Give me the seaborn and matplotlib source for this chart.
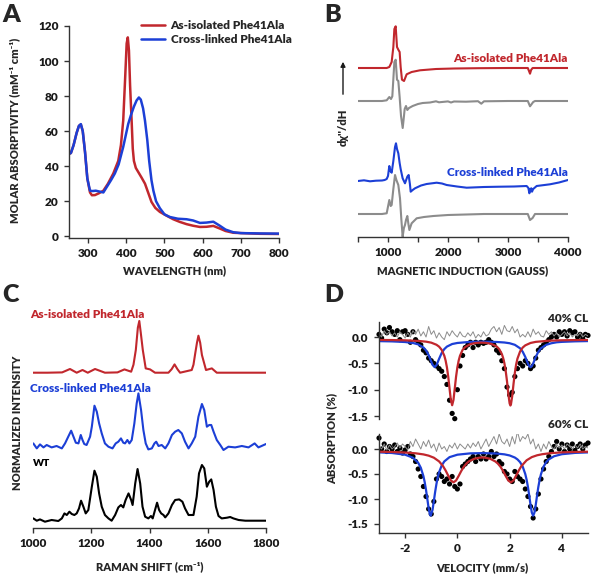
import numpy as np
import matplotlib

matplotlib.use("Agg")

import matplotlib.pyplot as plt
import seaborn as sns

# ---- Panel A: UV-vis ----
nm_iso = [250, 255, 262, 270, 276, 281, 286, 292, 298, 305,
          310, 318, 328, 340, 352, 366, 379, 386, 392, 397,
          401, 404, 407, 410, 414, 417, 420, 425, 431, 440,
          449, 458, 466, 476, 488, 505, 523, 540, 558, 575,
          593, 610, 628, 645, 660, 680, 700, 750, 800]
eps_iso = [47, 47.5, 52, 59, 63, 63.8, 60, 48, 33, 25,
           23.4, 23.5, 24.5, 26, 30, 35.8, 43, 52, 66, 90,
           110, 113.5, 106, 86, 66, 50, 43, 39, 36.8, 33.5,
           30, 24.5, 19.6, 16.2, 13.9, 11.8, 9.7, 8.2, 6.9, 6,
           5.3, 5.4, 5.9, 4.4, 3, 2, 1.8, 1.4, 1.3]
nm_cl = [250, 255, 262, 270, 276, 281, 286, 292, 298, 305,
         312, 320, 330, 340, 350, 360, 370, 380, 392, 400,
         405, 412, 420, 427, 433, 438, 444, 449, 455, 460,
         466, 471, 478, 488, 500, 514, 535, 558, 575, 593,
         610, 628, 645, 660, 680, 700, 750, 800]
eps_cl = [47, 47.5, 52, 59, 63, 64, 60, 48, 33, 26,
          25.8, 26, 25.5, 25, 28.5, 32, 35.8, 41, 51, 59,
          64, 69, 74, 77.5, 79.2, 78, 73, 66, 55, 43,
          32, 26, 20, 16, 12.5, 11, 10, 9.7, 9, 7.6,
          7.8, 8.3, 6, 3.8, 2.3, 1.8, 1.6, 1.5]

# ---- Panel B: EPR (derivative, arbitrary units) ----
g_iso = [500, 800, 978, 1022, 1061, 1089, 1106, 1128, 1150, 1172, 1194, 1211, 1233,
         1267, 1311, 1394, 1533, 1800, 2100, 2500, 3000, 3330, 3350, 3367, 3385,
         3410, 3700, 4000]
epr_iso = [0, 0, 0, 1, 6, 21, 39, 41.7, 21, 18.3, 16, 1, -11.7,
           -13, -6.3, -4, -2.3, -1, -0.5, -0.2, 0, 0, -3, -5.7, -2,
           0, 0, 0]
g_iso_sim = [500, 900, 978, 1022, 1050, 1072, 1106, 1128, 1150, 1172, 1194, 1217, 1245,
             1261, 1278, 1300, 1322, 1350, 1411, 1500, 1578, 1700, 1800, 1850, 1900,
             2000, 2050, 2100, 2300, 2500, 2555, 2600, 3000, 3330, 3367, 3420, 3450, 4000]
epr_iso_sim = [0, 0, 0.7, 4, 2, 4.7, 39, 41.3, 21.3, 20, 4, -15, -27,
               -18, -8, -5, -9, -7, -5, -3, -2, -1.5, -0.3, -1.3, -1,
               -0.4, -1.5, -0.5, -0.7, -0.2, -2.7, -0.3, 0, 0, -5.3, -1, 0, 0]
g_cl = [500, 600, 700, 800, 900, 944, 978, 1000, 1022, 1040, 1061, 1089, 1117, 1133,
        1150, 1172, 1194, 1211, 1244, 1283, 1322, 1344, 1365, 1378, 1411, 1450, 1550,
        1644, 1811, 1900, 1978, 2150, 2311, 2600, 2867, 3100, 3311, 3340, 3356, 3372,
        3389, 3400, 3420, 3478, 3700, 3850, 4000]
epr_cl = [0, 0.7, -0.3, 0.3, 0.5, 1, 2, 5, 15, 10, 8.3, 20, 34, 37.7,
          32, 27.7, 18, 12, 2.7, -2.3, 4.3, 6, -3, -10.7, -9, -7.3, -4.5,
          -3, -1.7, -2.5, -4, -5.5, -6.7, -6, -5.7, -5.5, -5, -7, -12.3, -8,
          -7.3, -10.7, -8, -5, -3.3, -1.5, 1]
g_cl_sim = [500, 900, 978, 1022, 1045, 1061, 1089, 1117, 1140, 1172, 1200, 1222, 1244,
            1265, 1283, 1300, 1322, 1340, 1356, 1394, 1478, 1600, 1756, 2000, 2300,
            2600, 3330, 3367, 3410, 3450, 4000]
epr_cl_sim = [0, 0, 0.7, 14, 8, 9, 25, 39, 34, 29, 15.7, -5, -22.7,
              -14, -11, -6, -2, -10, -16, -9.3, -4.3, -3, -2, -1, -0.5,
              0, 0, -6, -4, 0, 0]

# ---- Panel C: resonance Raman ----
rr_iso_x = [1000, 1050, 1100, 1127, 1150, 1170, 1188, 1213, 1247, 1290, 1314, 1337,
            1345, 1353, 1360, 1365, 1370, 1377, 1387, 1402, 1419, 1465, 1476, 1486,
            1496, 1505, 1545, 1551, 1557, 1563, 1568, 1574, 1580, 1594, 1614, 1631,
            1700, 1800]
rr_iso_y = [0, 0, 0.3, 3.7, 0, 2.7, 0, 3.7, 0, 0.3, 3.3, 1,
            8, 22.7, 45, 51.7, 40, 22.7, 4.3, 3.3, 0, 0, 3.5, 8.3,
            3.5, 0, 2.7, 8, 19.3, 30, 37, 30, 17.7, 2.7, 4.3, 0,
            0, 0]
rr_cl_x = [1001, 1013, 1024, 1036, 1047, 1064, 1081, 1099, 1110, 1121,
           1131, 1139, 1147, 1156, 1164, 1170, 1176, 1184, 1196, 1202,
           1211, 1219, 1227, 1236, 1247, 1259, 1273, 1284, 1293, 1302,
           1310, 1316, 1324, 1331, 1339, 1348, 1356, 1362, 1371, 1379,
           1387, 1396, 1408, 1417, 1423, 1431, 1442, 1454, 1465, 1477,
           1488, 1499, 1511, 1522, 1534, 1545, 1557, 1568, 1580, 1588,
           1597, 1605, 1612, 1620, 1631, 1643, 1654, 1671, 1694, 1717,
           1740, 1761, 1774, 1800]
rr_cl_y = [3.3, -1.7, 2.3, -0.7, 1.7, -0.7, 0.7, -1.7, 3.3, 10,
           16, 10, 4, 3.3, 11.7, 6.7, 2.7, 1.7, 10, 20,
           41, 35, 23.3, 13.3, 3.3, 0, -1.7, 3.3, 5, 8.3,
           4, 3.3, 6.7, 3.3, 6.7, 23.3, 43.3, 53.3, 36.7, 16.7,
           3.3, -2.7, -1.7, 3.3, 5, 0.7, 1.7, -1.7, 3.3, 11.7,
           15, 16.7, 13.3, 5, -1.7, 3.3, 10, 30, 42.7, 36.7,
           20, 21.7, 21.7, 15, 6.7, 1.7, -3.3, 0, -0.7, 0.7,
           -0.7, 3.3, -0.7, 2.7]
rr_wt_x = [1001, 1013, 1024, 1041, 1064, 1087, 1099, 1108, 1116, 1125,
           1133, 1142, 1150, 1158, 1165, 1173, 1181, 1190, 1202, 1211,
           1219, 1227, 1236, 1247, 1259, 1270, 1282, 1293, 1302, 1310,
           1318, 1328, 1337, 1342, 1351, 1359, 1368, 1376, 1385, 1396,
           1405, 1411, 1419, 1426, 1433, 1440, 1448, 1454, 1465, 1477,
           1488, 1502, 1513, 1522, 1534, 1551, 1562, 1570, 1580, 1588,
           1597, 1605, 1612, 1620, 1628, 1637, 1648, 1666, 1677, 1688,
           1706, 1729, 1774, 1800]
rr_wt_y = [2.3, 0, 1.3, -1, 0.7, -0.3, 2.3, 7.3, 5.7, 9,
           6.7, 5.7, 7.3, 12.3, 20, 14, 7.3, 10.7, 34, 50,
           44, 27.3, 14, 5.7, 2.3, 0, 5.7, 13.3, 15.7, 13.3,
           20.7, 27.3, 20.7, 15.7, 37.3, 51.7, 37.3, 14, 4, 2.3,
           4.7, 2.3, 10.7, 18, 10.7, 7.3, 5.7, 3.3, 7.3, 15.7,
           20.7, 21.3, 19, 12.3, 5.7, 5.7, 24, 47.3, 55.7, 52.3,
           34, 39, 41.3, 30.7, 14, 4.7, 2.3, 3, 3.7, 2.3,
           0.7, 0, 0, 0]

# ---- Panel D: Mossbauer ----
vel = np.linspace(-3, 5, 81)  # velocity channels
abs40 = [0.05, -0.02, 0.15, 0.08, 0.18, 0.1, 0.05, 0.12, -0.05, 0.1,
         0.12, 0.05, -0.1, 0.1, -0.05, -0.1, -0.15, -0.25, -0.3, -0.4,
         -0.45, -0.5, -0.55, -0.6, -0.65, -0.75, -0.9, -1.2, -1.45, -1.55,
         -1.0, -0.55, -0.35, -0.2, -0.15, -0.1, -0.2, -0.1, -0.15, -0.1,
         -0.12, -0.1, -0.05, -0.1, -0.15, -0.25, -0.3, -0.45, -0.6, -0.95,
         -1.1, -1.05, -0.75, -0.6, -0.5, -0.55, -0.45, -0.5, -0.6, -0.55,
         -0.4, -0.25, -0.2, -0.15, -0.1, -0.05, 0.0, 0.05, 0.0, 0.1,
         0.05, 0.1, 0.02, 0.12, 0.08, 0.1, 0.0, 0.05, -0.02, 0.05,
         0.03]
res40 = [0.05, 0.0, 0.12, 0.05, 0.1, 0.02, 0.08, 0.0, 0.1, 0.05,
         -0.02, 0.08, 0.0, 0.12, 0.05, 0.15, 0.02, 0.1, 0.0, 0.2,
         0.05, 0.12, -0.02, 0.08, 0.0, -0.05, 0.1, 0.02, 0.12, 0.05,
         0.0, 0.1, 0.02, 0.0, 0.08, 0.02, 0.1, -0.02, 0.05, 0.0,
         0.1, 0.02, 0.05, 0.15, 0.2, 0.1, 0.18, 0.05, 0.22, 0.12,
         0.1, 0.2, 0.08, 0.15, 0.0, 0.05, 0.0, 0.1, 0.0, 0.15,
         0.05, 0.1, 0.02, 0.0, 0.12, 0.05, 0.1, 0.02, 0.08, 0.0,
         0.05, 0.1, 0.02, 0.08, 0.0, 0.05, 0.02, 0.08, 0.0, 0.05,
         0.02]
abs60 = [0.22, 0.0, 0.1, -0.05, 0.05, 0.0, 0.08, -0.05, 0.02, -0.08,
         -0.02, 0.05, -0.1, -0.15, -0.25, -0.4, -0.55, -0.75, -0.95, -1.2,
         -1.3, -1.05, -0.6, -0.5, -0.55, -0.65, -0.6, -0.7, -0.55, -0.75,
         -0.8, -0.7, -0.35, -0.3, -0.25, -0.2, -0.15, -0.25, -0.15, -0.2,
         -0.1, -0.2, -0.15, -0.05, -0.15, -0.1, -0.25, -0.3, -0.45, -0.5,
         -0.6, -0.65, -0.45, -0.55, -0.6, -0.65, -0.8, -0.95, -1.15, -1.38,
         -1.2, -0.9, -0.6, -0.4, -0.25, -0.15, -0.05, 0.05, 0.15, 0.0,
         0.1, -0.05, 0.08, 0.0, 0.1, -0.03, 0.05, 0.1, 0.0, 0.08,
         0.12]
res60 = [0.05, 0.0, 0.1, -0.02, 0.08, 0.0, 0.05, 0.12, 0.02, 0.1,
         0.05, -0.02, 0.15, 0.05, 0.2, 0.1, 0.0, 0.15, 0.05, 0.18,
         0.02, 0.1, -0.05, 0.12, 0.0, 0.05, -0.05, 0.08, 0.02, 0.12,
         0.0, 0.1, 0.05, 0.0, 0.1, 0.02, 0.12, 0.05, 0.15, 0.0,
         0.1, 0.2, 0.05, 0.15, 0.25, 0.1, 0.3, 0.15, 0.1, 0.2,
         0.05, 0.25, 0.1, 0.35, 0.15, 0.25, 0.2, 0.3, 0.1, 0.2,
         0.0, 0.1, -0.05, 0.1, 0.0, 0.15, 0.05, 0.0, 0.1, 0.02,
         0.08, 0.0, 0.1, 0.05, 0.0, 0.08, 0.02, 0.1, 0.0, 0.05,
         0.02]

# fit components
v_red40 = [-3, -2.5, -2, -1.5, -1.2, -1.0, -0.8, -0.7, -0.6, -0.5,
           -0.45, -0.4, -0.35, -0.3, -0.25, -0.2, -0.15, -0.1, -0.05, 0,
           0.05, 0.1, 0.2, 0.3, 0.5, 0.7, 0.9, 1.1, 1.3, 1.5,
           1.6, 1.7, 1.75, 1.8, 1.85, 1.9, 1.95, 2.0, 2.03, 2.05,
           2.1, 2.15, 2.2, 2.25, 2.3, 2.4, 2.5, 2.6, 2.8, 3.0,
           3.5, 4.0, 4.5, 5.0]
fit_red40 = [-0.056, -0.058, -0.063, -0.074, -0.088, -0.107, -0.147, -0.183, -0.244, -0.356,
             -0.447, -0.575, -0.752, -0.976, -1.195, -1.295, -1.195, -0.976, -0.752, -0.575,
             -0.447, -0.356, -0.244, -0.19, -0.134, -0.113, -0.106, -0.111, -0.13, -0.178,
             -0.229, -0.32, -0.395, -0.498, -0.645, -0.84, -1.075, -1.26, -1.30, -1.28,
             -1.12, -0.885, -0.68, -0.52, -0.41, -0.275, -0.20, -0.158, -0.113, -0.092,
             -0.07, -0.062, -0.058, -0.056]
v_blue40 = [-3, -2.5, -2, -1.7, -1.5, -1.3, -1.2, -1.1, -1.0, -0.95,
            -0.87, -0.8, -0.7, -0.6, -0.5, -0.4, -0.2, 0, 0.5, 1.0,
            1.5, 1.8, 2.0, 2.2, 2.4, 2.5, 2.6, 2.7, 2.75, 2.8,
            2.85, 2.9, 3.0, 3.1, 3.2, 3.4, 3.6, 3.8, 4.0, 4.5,
            5.0]
fit_blue40 = [-0.078, -0.083, -0.095, -0.113, -0.14, -0.198, -0.254, -0.343, -0.466, -0.526,
              -0.572, -0.535, -0.414, -0.302, -0.229, -0.182, -0.133, -0.113, -0.092, -0.088,
              -0.094, -0.104, -0.118, -0.148, -0.214, -0.279, -0.379, -0.503, -0.552, -0.572,
              -0.552, -0.503, -0.379, -0.279, -0.214, -0.148, -0.118, -0.1, -0.092, -0.082,
              -0.077]
v_red60 = [-3, -2.5, -2, -1.6, -1.3, -1.1, -0.9, -0.7, -0.55, -0.45,
           -0.35, -0.25, -0.15, -0.05, 0.05, 0.15, 0.25, 0.35, 0.45, 0.65,
           0.85, 0.95, 1.05, 1.25, 1.45, 1.55, 1.65, 1.75, 1.85, 1.95,
           2.05, 2.15, 2.25, 2.35, 2.45, 2.65, 2.85, 3.05, 3.25, 3.55,
           4.0, 4.5, 5.0]
fit_red60 = [-0.054, -0.06, -0.07, -0.086, -0.108, -0.133, -0.174, -0.248, -0.342, -0.43,
             -0.533, -0.627, -0.667, -0.63, -0.538, -0.438, -0.353, -0.289, -0.244, -0.194,
             -0.173, -0.17, -0.173, -0.194, -0.248, -0.292, -0.355, -0.44, -0.54, -0.631,
             -0.668, -0.627, -0.533, -0.43, -0.342, -0.226, -0.162, -0.126, -0.104, -0.084,
             -0.067, -0.059, -0.054]
v_blue60 = [-3, -2.5, -2.0, -1.7, -1.5, -1.4, -1.3, -1.25, -1.2, -1.15,
            -1.1, -1.05, -1.02, -0.95, -0.9, -0.85, -0.8, -0.75, -0.7, -0.6,
            -0.5, -0.3, 0, 0.5, 1.0, 1.5, 1.8, 2.0, 2.2, 2.3,
            2.4, 2.5, 2.6, 2.65, 2.7, 2.75, 2.8, 2.85, 2.9, 2.95,
            3.0, 3.05, 3.1, 3.15, 3.2, 3.3, 3.4, 3.5, 3.7, 4.0,
            4.5, 5.0]
fit_blue60 = [-0.067, -0.08, -0.114, -0.174, -0.275, -0.375, -0.542, -0.665, -0.82, -1.0,
              -1.184, -1.31, -1.333, -1.215, -1.04, -0.855, -0.695, -0.566, -0.465, -0.33,
              -0.248, -0.163, -0.114, -0.087, -0.082, -0.091, -0.107, -0.129, -0.171, -0.208,
              -0.263, -0.352, -0.503, -0.614, -0.756, -0.929, -1.116, -1.272, -1.334, -1.272,
              -1.116, -0.929, -0.756, -0.614, -0.503, -0.352, -0.263, -0.208, -0.145, -0.104,
              -0.078, -0.068]

RED = "#c1272d"
BLUE = "#1c3fd6"
GRAY = "#8c8c8c"
INK = "#1a1a1a"
WEIGHT = "heavy"

sns.set_style("ticks")
plt.rcParams["font.family"] = ["Lato", "DejaVu Sans"]
plt.rcParams["font.weight"] = WEIGHT
plt.rcParams["axes.unicode_minus"] = False
plt.rcParams["axes.linewidth"] = 1.0
plt.rcParams["axes.edgecolor"] = "#333333"

W, H = 591, 578
fig = plt.figure(figsize=(W / 100, H / 100), dpi=100)


def box(l, t, r, b):
    return [l / W, 1 - b / H, (r - l) / W, (b - t) / H]


def ftext(x, y, s, **kw):
    kw.setdefault("va", "center")
    kw.setdefault("fontweight", WEIGHT)
    fig.text(x / W, 1 - y / H, s, **kw)


def style_ticks(ax):
    ax.tick_params(direction="out", length=3.5, width=1, labelsize=8.5,
                   color="#333333", labelcolor=INK, pad=4)
    for lab in ax.get_xticklabels() + ax.get_yticklabels():
        lab.set_fontweight(WEIGHT)


def line(ax, x, y, color, lw=1.6, label=None):
    sns.lineplot(x=np.asarray(x), y=np.asarray(y), ax=ax, color=color, lw=lw,
                 estimator=None, sort=False, errorbar=None, label=label)


# ---------- A ----------
axA = fig.add_axes(box(69, 26, 279, 238))
line(axA, nm_iso, eps_iso, RED, 1.8, "As-isolated Phe41Ala")
line(axA, nm_cl, eps_cl, BLUE, 1.8, "Cross-linked Phe41Ala")
axA.set_xlim(250, 800)
axA.set_ylim(-1, 120)
axA.set_xticks(range(300, 801, 100))
axA.set_yticks(range(0, 121, 20))
sns.despine(ax=axA)
style_ticks(axA)
axA.set_xlabel("")
axA.set_ylabel("")
axA.legend(loc="upper left", bbox_to_anchor=(141 / W, 1 - 20 / H),
           bbox_transform=fig.transFigure, frameon=False,
           prop={"size": 8.5, "weight": WEIGHT},
           handlelength=2.0, handletextpad=0.5, labelspacing=0.25,
           borderpad=0, borderaxespad=0)
ftext(175, 271, "WAVELENGTH (nm)", ha="center", fontsize=8)
ftext(15, 130, "MOLAR ABSORPTIVITY (mM⁻¹ cm⁻¹)", ha="center",
      rotation=90, fontsize=8)
ftext(2, 15, "A", ha="left", fontsize=18)

# ---------- B ----------
axB = fig.add_axes(box(358, 22, 568, 237))
line(axB, g_iso, np.asarray(epr_iso) + 169, RED, 1.5)
line(axB, g_iso_sim, np.asarray(epr_iso_sim) + 136, GRAY, 1.5)
line(axB, g_cl, np.asarray(epr_cl) + 56, BLUE, 1.5)
line(axB, g_cl_sim, np.asarray(epr_cl_sim) + 23, GRAY, 1.5)
axB.set_xlim(500, 4000)
axB.set_ylim(0, 215)
axB.set_xticks(range(500, 4001, 500))
axB.set_xticklabels(["" if t % 1000 else str(t) for t in range(500, 4001, 500)])
axB.set_yticks([])
sns.despine(ax=axB, left=True)
style_ticks(axB)
axB.set_xlabel("")
axB.set_ylabel("")
ftext(568, 58, "As-isolated Phe41Ala", ha="right", color=RED, fontsize=8.5)
ftext(568, 173, "Cross-linked Phe41Ala", ha="right", color=BLUE, fontsize=8.5)
ftext(463, 271, "MAGNETIC INDUCTION (GAUSS)", ha="center", fontsize=8)
ftext(343, 127, "dχ''/dH", ha="center", rotation=90, fontsize=8)
fig.patches.append(matplotlib.patches.FancyArrowPatch(
    (343 / W, 1 - 97 / H), (343 / W, 1 - 59 / H), transform=fig.transFigure,
    arrowstyle="-|>", mutation_scale=7, lw=1, color=INK))
ftext(324, 15, "B", ha="left", fontsize=18)

# ---------- C ----------
axC = fig.add_axes(box(33, 313, 266, 528))
line(axC, rr_iso_x, np.asarray(rr_iso_y) + 155.3, RED, 1.5)
line(axC, rr_cl_x, np.asarray(rr_cl_y) + 81.3, BLUE, 1.5)
line(axC, rr_wt_x, np.asarray(rr_wt_y) + 7.3, "black", 1.5)
axC.set_xlim(1000, 1800)
axC.set_ylim(0, 215)
axC.set_xticks(range(1000, 1801, 200))
axC.set_yticks([])
sns.despine(ax=axC, left=True)
style_ticks(axC)
axC.set_xlabel("")
axC.set_ylabel("")
ftext(30, 314, "As-isolated Phe41Ala", ha="left", color=RED, fontsize=8.5)
ftext(30, 388, "Cross-linked Phe41Ala", ha="left", color=BLUE, fontsize=8.5)
ftext(33, 463, "WT", ha="left", color="black", fontsize=7.5)
ftext(150, 567, "RAMAN SHIFT (cm⁻¹)", ha="center", fontsize=8)
ftext(18, 423, "NORMALIZED INTENSITY", ha="center", rotation=90, fontsize=8)
ftext(2, 295, "C", ha="left", fontsize=18)

# ---------- D ----------
axD1 = fig.add_axes(box(379, 322, 588, 419))
axD2 = fig.add_axes(box(379, 434, 588, 533))
for ax, a, r, vr, fr, vb, fb in [
        (axD1, abs40, res40, v_red40, fit_red40, v_blue40, fit_blue40),
        (axD2, abs60, res60, v_red60, fit_red60, v_blue60, fit_blue60)]:
    sns.scatterplot(x=vel, y=a, ax=ax, color="black", s=14, edgecolor="none",
                    clip_on=False, zorder=2)
    line(ax, vel, r, GRAY, 0.7)
    line(ax, vb, fb, BLUE, 1.6)
    line(ax, vr, fr, RED, 1.6)
    ax.set_xlim(-3, 5)
    ax.set_yticks([0, -0.5, -1.0, -1.5])
    ax.set_yticklabels(["0.0", "-0.5", "-1.0", "-1.5"])
    ax.set_xlabel("")
    ax.set_ylabel("")
axD1.set_ylim(-1.556, 0.285)
axD2.set_ylim(-1.68, 0.3)
axD1.set_xticks([])
axD2.set_xticks([-2, 0, 2, 4])
sns.despine(ax=axD1, bottom=True)
sns.despine(ax=axD2)
style_ticks(axD1)
style_ticks(axD2)
ftext(588, 318, "40% CL", ha="right", fontsize=8.5)
ftext(588, 425, "60% CL", ha="right", fontsize=8.5)
ftext(482, 568, "VELOCITY (mm/s)", ha="center", fontsize=8)
ftext(332, 438, "ABSORPTION (%)", ha="center", rotation=90, fontsize=8)
ftext(324, 295, "D", ha="left", fontsize=18)

fig.savefig("out.png", dpi=100)
